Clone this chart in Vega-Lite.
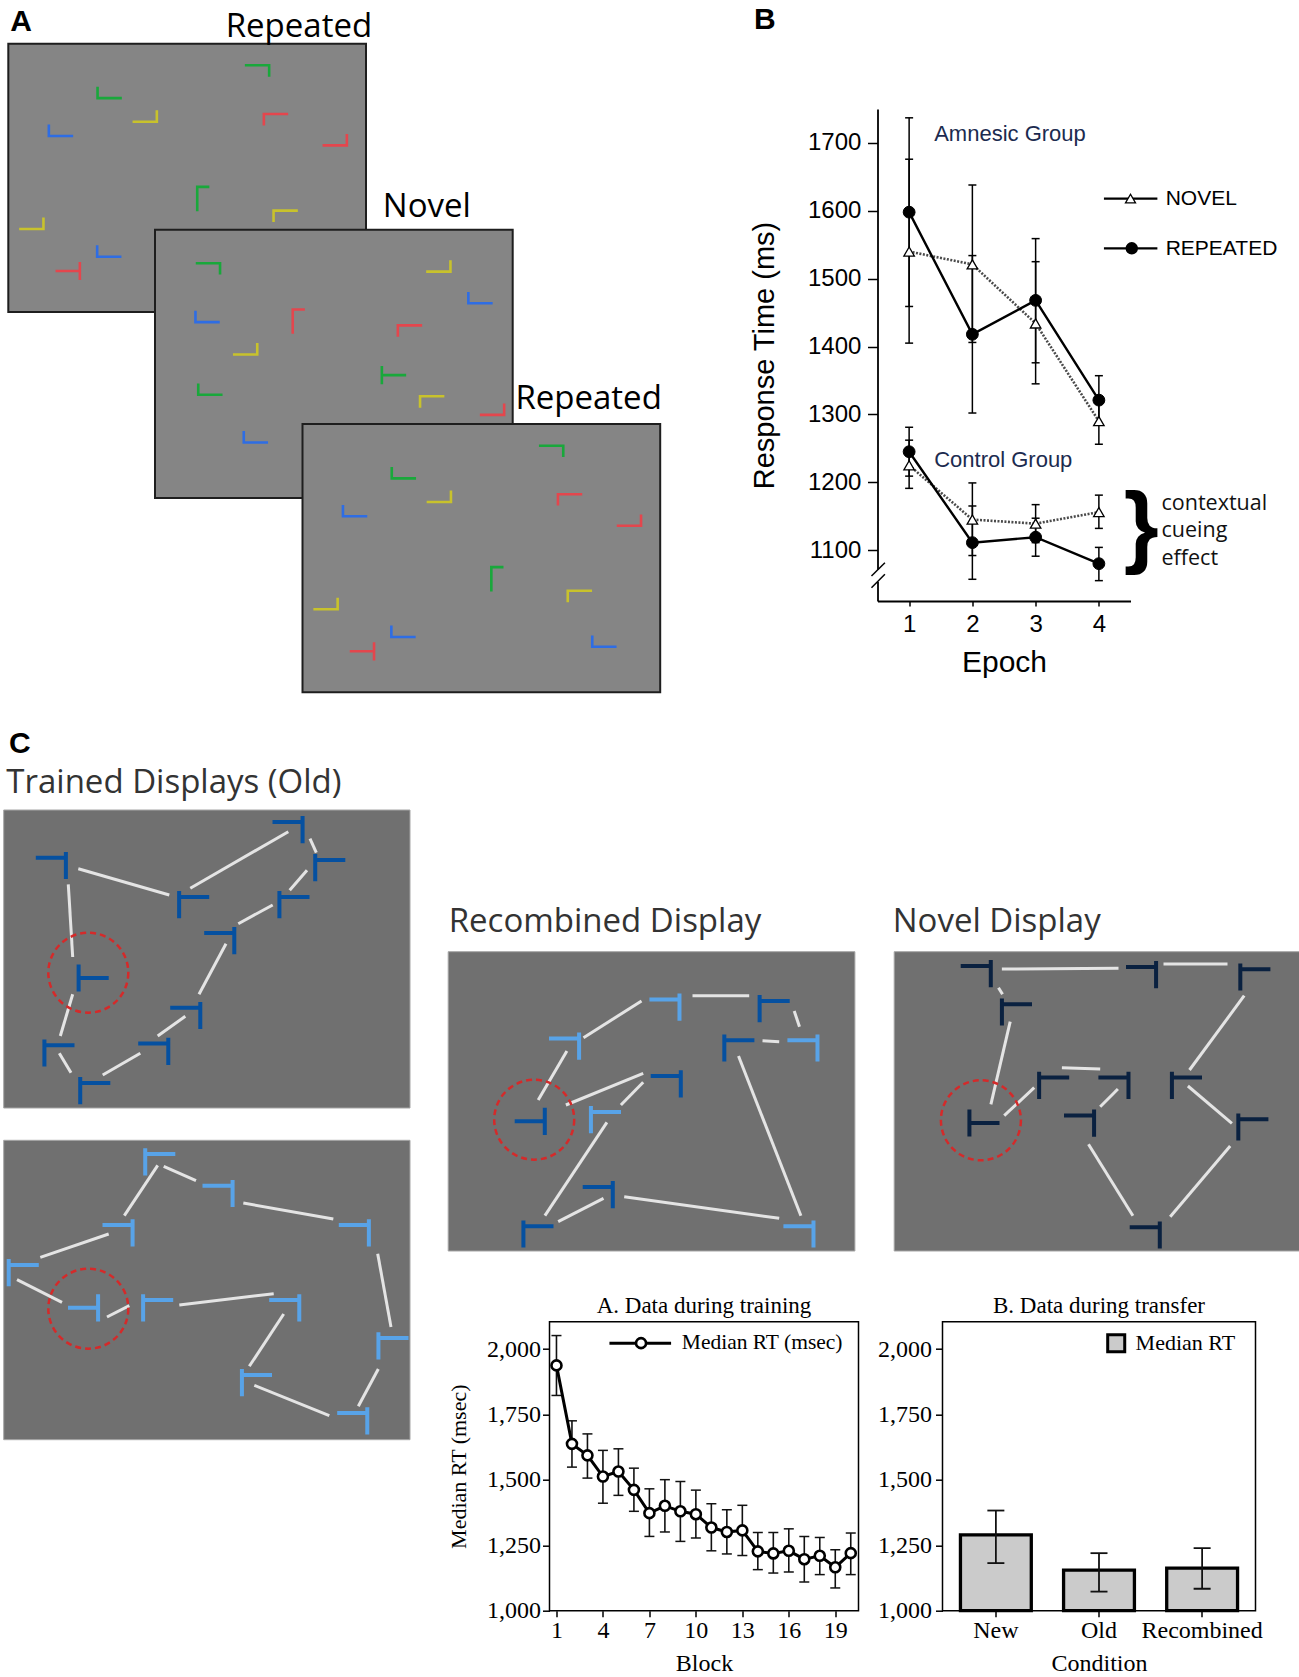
{
  "$schema": "https://vega.github.io/schema/vega-lite/v6.json",
  "background": "white",
  "padding": {"top": 4, "left": 0, "right": 0, "bottom": 0},
  "spacing": 30,
  "config": {
    "view": {"stroke": null},
    "axis": {"grid": false, "domainColor": "black", "tickColor": "black", "labelColor": "black", "titleColor": "black", "titleFontWeight": "normal", "labelFlush": false}
  },
  "resolve": {"scale": {"color": "independent", "shape": "independent"}},
  "datasets": {
    "a_displays": [
      {"id": "Repeated 1", "x1": 0.73, "x2": 36.5, "y1": 4.27, "y2": 31.1},
      {"id": "Novel", "x1": 15.4, "x2": 51.17, "y1": 22.87, "y2": 49.7},
      {"id": "Repeated 2", "x1": 30.15, "x2": 65.92, "y1": 42.3, "y2": 69.13}
    ],
    "a_items": [
      {"k": "TR", "c": "green", "x": 25.6, "y": 7.0},
      {"k": "BL", "c": "green", "x": 10.87, "y": 9.14},
      {"k": "BR", "c": "yellow", "x": 14.37, "y": 11.5},
      {"k": "BL", "c": "blue", "x": 6.0, "y": 12.93},
      {"k": "TL", "c": "red", "x": 27.5, "y": 11.87},
      {"k": "BR", "c": "red", "x": 33.37, "y": 13.87},
      {"k": "TLv", "c": "green", "x": 20.23, "y": 19.8},
      {"k": "TL", "c": "yellow", "x": 28.47, "y": 21.53},
      {"k": "BR", "c": "yellow", "x": 3.03, "y": 22.23},
      {"k": "BL", "c": "blue", "x": 10.83, "y": 25.0},
      {"k": "TLeft", "c": "red", "x": 6.67, "y": 27.0},
      {"k": "TR", "c": "green", "x": 20.69, "y": 26.79},
      {"k": "BR", "c": "yellow", "x": 43.73, "y": 26.49},
      {"k": "BL", "c": "blue", "x": 47.95, "y": 29.66},
      {"k": "BL", "c": "blue", "x": 20.66, "y": 31.54},
      {"k": "TLv", "c": "red", "x": 29.78, "y": 32.07},
      {"k": "TL", "c": "red", "x": 40.9, "y": 33.01},
      {"k": "BR", "c": "yellow", "x": 24.41, "y": 34.78},
      {"k": "TRight", "c": "green", "x": 39.3, "y": 37.41},
      {"k": "BL", "c": "green", "x": 20.94, "y": 38.81},
      {"k": "TL", "c": "yellow", "x": 43.12, "y": 40.1},
      {"k": "BR", "c": "red", "x": 49.1, "y": 40.82},
      {"k": "BL", "c": "blue", "x": 25.49, "y": 43.58},
      {"k": "TR", "c": "green", "x": 55.01, "y": 45.04},
      {"k": "BL", "c": "green", "x": 40.29, "y": 47.17},
      {"k": "BR", "c": "yellow", "x": 43.78, "y": 49.53},
      {"k": "BL", "c": "blue", "x": 35.41, "y": 50.96},
      {"k": "TL", "c": "red", "x": 56.91, "y": 49.89},
      {"k": "BR", "c": "red", "x": 62.79, "y": 51.91},
      {"k": "TLv", "c": "green", "x": 49.64, "y": 57.83},
      {"k": "TL", "c": "yellow", "x": 57.89, "y": 59.55},
      {"k": "BR", "c": "yellow", "x": 32.45, "y": 60.25},
      {"k": "BL", "c": "blue", "x": 40.25, "y": 63.03},
      {"k": "TLeft", "c": "red", "x": 36.09, "y": 65.03},
      {"k": "BL", "c": "blue", "x": 60.34, "y": 64.01}
    ],
    "a_titles": [
      {"t": "Repeated", "x": 22.47, "y": 3.55},
      {"t": "Novel", "x": 38.18, "y": 21.6},
      {"t": "Repeated", "x": 51.44, "y": 40.8}
    ],
    "a_tag": [{"t": "A", "x": 0.92, "y": 3.0}],
    "c_displays": [
      {"id": "Trained 1", "x1": 0.27, "x2": 40.9, "y1": 8.4, "y2": 38.2},
      {"id": "Trained 2", "x1": 0.27, "x2": 40.9, "y1": 41.43, "y2": 71.37}
    ],
    "c_items": [
      {"k": "LT", "c": "dark", "x": 5.08, "y": 13.95},
      {"k": "RT", "c": "dark", "x": 19.22, "y": 17.87},
      {"k": "LT", "c": "dark", "x": 28.75, "y": 10.37},
      {"k": "RT", "c": "dark", "x": 32.83, "y": 14.17},
      {"k": "RT", "c": "dark", "x": 29.25, "y": 17.87},
      {"k": "LT", "c": "dark", "x": 21.92, "y": 21.47},
      {"k": "RM", "c": "dark", "x": 9.17, "y": 25.2},
      {"k": "LT", "c": "dark", "x": 18.52, "y": 28.95},
      {"k": "LT", "c": "dark", "x": 15.32, "y": 32.53},
      {"k": "RT", "c": "dark", "x": 5.75, "y": 32.7},
      {"k": "RT", "c": "dark", "x": 9.33, "y": 36.47},
      {"k": "RT", "c": "light", "x": 15.83, "y": 43.58},
      {"k": "LT", "c": "light", "x": 21.75, "y": 46.75},
      {"k": "LT", "c": "light", "x": 35.38, "y": 50.68},
      {"k": "LT", "c": "light", "x": 11.75, "y": 50.68},
      {"k": "RT", "c": "light", "x": 2.18, "y": 54.67},
      {"k": "LM", "c": "light", "x": 8.3, "y": 58.18},
      {"k": "RT", "c": "light", "x": 15.62, "y": 58.18},
      {"k": "LT", "c": "light", "x": 28.42, "y": 58.18},
      {"k": "RT", "c": "light", "x": 39.15, "y": 61.98},
      {"k": "RT", "c": "light", "x": 25.5, "y": 65.67},
      {"k": "LT", "c": "light", "x": 35.22, "y": 69.48}
    ],
    "c_lines": [
      {"x": 7.73, "y": 14.27, "x2": 16.83, "y2": 16.9},
      {"x": 18.93, "y": 16.23, "x2": 28.73, "y2": 10.57},
      {"x": 30.9, "y": 11.27, "x2": 31.53, "y2": 12.67},
      {"x": 30.6, "y": 14.43, "x2": 28.87, "y2": 16.43},
      {"x": 27.17, "y": 17.9, "x2": 23.73, "y2": 19.77},
      {"x": 22.5, "y": 21.77, "x2": 19.8, "y2": 26.83},
      {"x": 18.43, "y": 29.03, "x2": 15.67, "y2": 31.0},
      {"x": 13.93, "y": 32.73, "x2": 10.17, "y2": 34.9},
      {"x": 7.0, "y": 34.67, "x2": 5.83, "y2": 32.73},
      {"x": 5.93, "y": 31.0, "x2": 7.17, "y2": 26.83},
      {"x": 7.17, "y": 23.1, "x2": 6.73, "y2": 15.83},
      {"x": 15.67, "y": 43.93, "x2": 12.33, "y2": 48.97},
      {"x": 16.27, "y": 44.03, "x2": 19.5, "y2": 45.47},
      {"x": 24.23, "y": 47.7, "x2": 33.23, "y2": 49.3},
      {"x": 37.67, "y": 52.77, "x2": 39.0, "y2": 60.1},
      {"x": 37.73, "y": 64.3, "x2": 35.73, "y2": 68.03},
      {"x": 32.83, "y": 68.97, "x2": 25.33, "y2": 65.93},
      {"x": 24.83, "y": 64.03, "x2": 28.27, "y2": 58.8},
      {"x": 27.27, "y": 56.77, "x2": 17.83, "y2": 57.9},
      {"x": 12.83, "y": 57.97, "x2": 10.6, "y2": 59.1},
      {"x": 6.1, "y": 57.63, "x2": 1.6, "y2": 55.37},
      {"x": 3.93, "y": 53.13, "x2": 10.77, "y2": 50.8}
    ],
    "c_circles": [{"x": 8.73, "y": 24.67}, {"x": 8.73, "y": 58.27}],
    "c_titles": [{"t": "Trained Displays (Old)", "x": 0.53, "y": 6.7}],
    "c_tag": [{"t": "C", "x": 0.8, "y": 2.7}],
    "d_displays": [
      {"id": "Recombined", "x1": 0.0, "x2": 40.67, "y1": 22.57, "y2": 52.5},
      {"id": "Novel", "x1": 44.6, "x2": 85.27, "y1": 22.57, "y2": 52.5}
    ],
    "d_items": [
      {"k": "LT", "c": "light", "x": 21.72, "y": 28.12},
      {"k": "RT", "c": "dark", "x": 32.55, "y": 28.27},
      {"k": "LT", "c": "light", "x": 11.68, "y": 32.02},
      {"k": "RT", "c": "dark", "x": 29.02, "y": 32.2},
      {"k": "LT", "c": "light", "x": 35.52, "y": 32.2},
      {"k": "LT", "c": "dark", "x": 21.85, "y": 35.78},
      {"k": "LM", "c": "dark", "x": 8.25, "y": 39.53},
      {"k": "RT", "c": "light", "x": 15.68, "y": 39.37},
      {"k": "LT", "c": "dark", "x": 15.05, "y": 46.87},
      {"k": "RT", "c": "dark", "x": 8.93, "y": 50.8},
      {"k": "LT", "c": "light", "x": 35.12, "y": 50.8},
      {"k": "LT", "c": "navy", "x": 52.85, "y": 24.77},
      {"k": "LT", "c": "navy", "x": 69.38, "y": 24.87},
      {"k": "RT", "c": "navy", "x": 80.62, "y": 25.1},
      {"k": "RT", "c": "navy", "x": 56.78, "y": 28.6},
      {"k": "RT", "c": "navy", "x": 60.5, "y": 35.93},
      {"k": "LT", "c": "navy", "x": 66.62, "y": 35.93},
      {"k": "RT", "c": "navy", "x": 73.78, "y": 35.93},
      {"k": "RM", "c": "navy", "x": 53.53, "y": 39.7},
      {"k": "LT", "c": "navy", "x": 63.18, "y": 39.72},
      {"k": "RT", "c": "navy", "x": 80.42, "y": 40.1},
      {"k": "LT", "c": "navy", "x": 69.75, "y": 50.9}
    ],
    "d_lines": [
      {"x": 13.53, "y": 31.17, "x2": 19.33, "y2": 27.5},
      {"x": 24.43, "y": 26.97, "x2": 30.1, "y2": 26.97},
      {"x": 34.6, "y": 28.5, "x2": 35.13, "y2": 30.07},
      {"x": 31.43, "y": 31.47, "x2": 33.1, "y2": 31.57},
      {"x": 11.87, "y": 32.5, "x2": 9.0, "y2": 37.4},
      {"x": 11.77, "y": 37.9, "x2": 19.5, "y2": 34.73},
      {"x": 17.27, "y": 37.9, "x2": 19.5, "y2": 35.63},
      {"x": 15.87, "y": 39.63, "x2": 9.67, "y2": 48.97},
      {"x": 11.0, "y": 49.57, "x2": 15.53, "y2": 47.23},
      {"x": 17.6, "y": 47.07, "x2": 33.1, "y2": 49.23},
      {"x": 29.03, "y": 33.0, "x2": 35.27, "y2": 48.97},
      {"x": 55.37, "y": 24.3, "x2": 67.03, "y2": 24.23},
      {"x": 71.53, "y": 23.8, "x2": 77.93, "y2": 23.8},
      {"x": 55.03, "y": 26.17, "x2": 55.43, "y2": 26.83},
      {"x": 56.2, "y": 29.57, "x2": 54.27, "y2": 37.83},
      {"x": 55.6, "y": 38.97, "x2": 58.6, "y2": 36.17},
      {"x": 61.37, "y": 34.17, "x2": 65.2, "y2": 34.3},
      {"x": 65.2, "y": 38.07, "x2": 66.97, "y2": 36.3},
      {"x": 79.6, "y": 26.97, "x2": 74.13, "y2": 34.4},
      {"x": 73.97, "y": 36.0, "x2": 78.37, "y2": 39.73},
      {"x": 78.2, "y": 42.0, "x2": 72.2, "y2": 49.07},
      {"x": 64.03, "y": 41.83, "x2": 68.47, "y2": 48.97}
    ],
    "d_circles": [{"x": 8.6, "y": 39.37}, {"x": 53.27, "y": 39.43}],
    "d_titles": [
      {"t": "Recombined Display", "x": 0.05, "y": 20.57},
      {"t": "Novel Display", "x": 44.45, "y": 20.57}
    ],
    "b_series": [
      {"group": "Amnesic", "cond": "NOVEL", "epoch": 1, "rt": 1540, "lo": 1405, "hi": 1676},
      {"group": "Amnesic", "cond": "NOVEL", "epoch": 2, "rt": 1521, "lo": 1406, "hi": 1638},
      {"group": "Amnesic", "cond": "NOVEL", "epoch": 3, "rt": 1434, "lo": 1345, "hi": 1525},
      {"group": "Amnesic", "cond": "NOVEL", "epoch": 4, "rt": 1290, "lo": 1256, "hi": 1324},
      {"group": "Control", "cond": "NOVEL", "epoch": 1, "rt": 1225, "lo": 1191, "hi": 1262},
      {"group": "Control", "cond": "NOVEL", "epoch": 2, "rt": 1145, "lo": 1092, "hi": 1199},
      {"group": "Control", "cond": "NOVEL", "epoch": 3, "rt": 1139, "lo": 1111, "hi": 1167},
      {"group": "Control", "cond": "NOVEL", "epoch": 4, "rt": 1156, "lo": 1132, "hi": 1181},
      {"group": "Amnesic", "cond": "REPEATED", "epoch": 1, "rt": 1598, "lo": 1459, "hi": 1737},
      {"group": "Amnesic", "cond": "REPEATED", "epoch": 2, "rt": 1418, "lo": 1302, "hi": 1534},
      {"group": "Amnesic", "cond": "REPEATED", "epoch": 3, "rt": 1468, "lo": 1376, "hi": 1559},
      {"group": "Amnesic", "cond": "REPEATED", "epoch": 4, "rt": 1321, "lo": 1285, "hi": 1357},
      {"group": "Control", "cond": "REPEATED", "epoch": 1, "rt": 1245, "lo": 1209, "hi": 1281},
      {"group": "Control", "cond": "REPEATED", "epoch": 2, "rt": 1111, "lo": 1057, "hi": 1165},
      {"group": "Control", "cond": "REPEATED", "epoch": 3, "rt": 1119, "lo": 1091, "hi": 1147},
      {"group": "Control", "cond": "REPEATED", "epoch": 4, "rt": 1080, "lo": 1055, "hi": 1104}
    ],
    "b_legend": [
      {"cond": "NOVEL", "xa": 4.08, "xb": 4.925, "xs": 4.5, "xt": 5.056, "y": 1618, "yt": 1617},
      {"cond": "REPEATED", "xa": 4.08, "xb": 4.925, "xs": 4.52, "xt": 5.056, "y": 1544.7, "yt": 1543}
    ],
    "b_notes": [
      {"t": "Amnesic Group", "x": 1.396, "y": 1713},
      {"t": "Control Group", "x": 1.396, "y": 1233.4}
    ],
    "b_effect": [
      {"t": "contextual", "x": 4.99, "y": 1167.5},
      {"t": "cueing", "x": 4.99, "y": 1128.2},
      {"t": "effect", "x": 4.99, "y": 1086.4}
    ],
    "b_brace": [{"t": "}", "x": 4.67, "y": 1131}],
    "b_tag": [{"t": "B", "x": -1.453, "y": 1867.9}],
    "b_gap": [{"x": 0.5, "y": 1053, "y2": 1071}],
    "b_break": [
      {"x": 0.405, "y": 1061.8, "x2": 0.617, "y2": 1081.4},
      {"x": 0.405, "y": 1044.6, "x2": 0.617, "y2": 1064.3}
    ],
    "ta_train": [
      {"block": 1, "rt": 1938, "lo": 1823, "hi": 2052},
      {"block": 2, "rt": 1638, "lo": 1549, "hi": 1726},
      {"block": 3, "rt": 1594, "lo": 1507, "hi": 1676},
      {"block": 4, "rt": 1513, "lo": 1411, "hi": 1613},
      {"block": 5, "rt": 1532, "lo": 1441, "hi": 1619},
      {"block": 6, "rt": 1462, "lo": 1380, "hi": 1545},
      {"block": 7, "rt": 1373, "lo": 1284, "hi": 1466},
      {"block": 8, "rt": 1401, "lo": 1301, "hi": 1501},
      {"block": 9, "rt": 1380, "lo": 1265, "hi": 1494},
      {"block": 10, "rt": 1369, "lo": 1278, "hi": 1461},
      {"block": 11, "rt": 1318, "lo": 1229, "hi": 1409},
      {"block": 12, "rt": 1301, "lo": 1217, "hi": 1386},
      {"block": 13, "rt": 1307, "lo": 1211, "hi": 1403},
      {"block": 14, "rt": 1227, "lo": 1157, "hi": 1299},
      {"block": 15, "rt": 1219, "lo": 1144, "hi": 1299},
      {"block": 16, "rt": 1229, "lo": 1148, "hi": 1313},
      {"block": 17, "rt": 1197, "lo": 1110, "hi": 1284},
      {"block": 18, "rt": 1210, "lo": 1138, "hi": 1280},
      {"block": 19, "rt": 1166, "lo": 1087, "hi": 1233},
      {"block": 20, "rt": 1220, "lo": 1138, "hi": 1297}
    ],
    "ta_legend": [{"xa": 4.42, "xb": 8.4, "xs": 6.46, "xt": 9.09, "y": 2023, "t": "Median RT (msec)"}],
    "tb_transfer": [
      {"cond": "New", "rt": 1290, "lo": 1182, "hi": 1383},
      {"cond": "Old", "rt": 1155, "lo": 1073, "hi": 1220},
      {"cond": "Recombined", "rt": 1163, "lo": 1084, "hi": 1239}
    ],
    "tb_legend": [{"lx": 0.555, "lxt": 0.617, "y": 2023, "t": "Median RT"}]
  },
  "vconcat": [
    {
      "spacing": 68.5,
      "resolve": {"scale": {"color": "independent", "shape": "independent"}},
      "hconcat": [
        {
          "width": 680,
          "height": 587,
          "layer": [
            {
              "data": {"name": "a_displays"},
              "mark": {"type": "rect", "fill": "#858585", "stroke": "#1e1e1e", "strokeWidth": 2},
              "encoding": {
                "x": {"field": "x1", "type": "quantitative", "scale": {"domain": [0, 68], "nice": false, "zero": false}, "axis": null},
                "x2": {"field": "x2"},
                "y": {"field": "y1", "type": "quantitative", "scale": {"domain": [10.8, 69.5], "nice": false, "zero": false, "reverse": true}, "axis": null},
                "y2": {"field": "y2"}
              }
            },
            {
              "data": {"name": "a_items"},
              "mark": {"type": "point", "filled": false, "size": 590, "strokeWidth": 2.6, "opacity": 1},
              "encoding": {
                "x": {"field": "x", "type": "quantitative", "scale": {"domain": [0, 68], "nice": false, "zero": false}, "axis": null},
                "y": {"field": "y", "type": "quantitative", "scale": {"domain": [10.8, 69.5], "nice": false, "zero": false, "reverse": true}, "axis": null},
                "shape": {"field": "k", "type": "nominal", "legend": null, "scale": {"domain": ["BL", "BR", "TR", "TL", "TLv", "TLeft", "TRight"], "range": ["M-1,-0.47L-1,0.47L1,0.47", "M-1,0.47L1,0.47L1,-0.47", "M-1,-0.47L1,-0.47L1,0.47", "M-1,0.47L-1,-0.47L1,-0.47", "M0.5,-1L-0.5,-1L-0.5,1", "M-1,0L1,0M1,-0.75L1,0.75", "M1,0L-1,0M-1,-0.75L-1,0.75"]}},
                "color": {"field": "c", "type": "nominal", "legend": null, "scale": {"domain": ["green", "red", "blue", "yellow"], "range": ["#19a83b", "#e4464d", "#2e6de4", "#c8c22c"]}}
              }
            },
            {
              "data": {"name": "a_titles"},
              "mark": {"type": "text", "font": "Open Sans", "fontSize": 33, "align": "left", "baseline": "alphabetic", "color": "#000000"},
              "encoding": {
                "x": {"field": "x", "type": "quantitative", "scale": {"domain": [0, 68], "nice": false, "zero": false}, "axis": null},
                "y": {"field": "y", "type": "quantitative", "scale": {"domain": [10.8, 69.5], "nice": false, "zero": false, "reverse": true}, "axis": null},
                "text": {"field": "t", "type": "nominal"}
              }
            },
            {
              "data": {"name": "a_tag"},
              "mark": {"type": "text", "font": "Liberation Sans", "fontWeight": "bold", "fontSize": 30, "align": "left", "baseline": "alphabetic", "color": "#000000"},
              "encoding": {
                "x": {"field": "x", "type": "quantitative", "scale": {"domain": [0, 68], "nice": false, "zero": false}, "axis": null},
                "y": {"field": "y", "type": "quantitative", "scale": {"domain": [10.8, 69.5], "nice": false, "zero": false, "reverse": true}, "axis": null},
                "text": {"field": "t", "type": "nominal"}
              }
            }
          ]
        },
        {
          "width": 253,
          "height": 492,
          "layer": [
            {
              "data": {"name": "b_series"},
              "mark": {"type": "rule", "color": "black", "strokeWidth": 1.5},
              "encoding": {
                "x": {"field": "epoch", "type": "quantitative", "title": "Epoch", "scale": {"domain": [0.5, 4.5], "nice": false, "zero": false},
                  "axis": {"values": [1, 2, 3, 4], "format": "d", "title": "Epoch", "titleFont": "Liberation Sans", "titleFontSize": 30, "titlePadding": 11, "labelFont": "Liberation Sans", "labelFontSize": 24, "labelPadding": 6, "tickSize": 5, "tickWidth": 1.5, "domainWidth": 1.8}},
                "y": {"field": "lo", "type": "quantitative", "title": "Response Time (ms)", "scale": {"domain": [1025, 1750], "nice": false, "zero": false},
                  "axis": {"values": [1100, 1200, 1300, 1400, 1500, 1600, 1700], "format": "d", "title": "Response Time (ms)", "titleFont": "Liberation Sans", "titleFontSize": 29, "titlePadding": 28.5, "labelFont": "Liberation Sans", "labelFontSize": 24, "labelPadding": 6.6, "tickSize": 10, "tickWidth": 1.5, "domainWidth": 1.8}},
                "y2": {"field": "hi"}
              }
            },
            {
              "data": {"name": "b_series"},
              "mark": {"type": "tick", "orient": "horizontal", "size": 8, "thickness": 1.5, "color": "black", "opacity": 1},
              "encoding": {
                "x": {"field": "epoch", "type": "quantitative", "title": "Epoch", "scale": {"domain": [0.5, 4.5], "nice": false, "zero": false}},
                "y": {"field": "hi", "type": "quantitative", "title": "Response Time (ms)", "scale": {"domain": [1025, 1750], "nice": false, "zero": false}}
              }
            },
            {
              "data": {"name": "b_series"},
              "mark": {"type": "tick", "orient": "horizontal", "size": 8, "thickness": 1.5, "color": "black", "opacity": 1},
              "encoding": {
                "x": {"field": "epoch", "type": "quantitative", "title": "Epoch", "scale": {"domain": [0.5, 4.5], "nice": false, "zero": false}},
                "y": {"field": "lo", "type": "quantitative", "title": "Response Time (ms)", "scale": {"domain": [1025, 1750], "nice": false, "zero": false}}
              }
            },
            {
              "data": {"name": "b_series"},
              "transform": [{"filter": "datum.cond === 'NOVEL'"}],
              "mark": {"type": "line", "color": "#4a4a4a", "strokeWidth": 2.6, "strokeDash": [2, 1.5]},
              "encoding": {
                "x": {"field": "epoch", "type": "quantitative", "title": "Epoch", "scale": {"domain": [0.5, 4.5], "nice": false, "zero": false}},
                "y": {"field": "rt", "type": "quantitative", "title": "Response Time (ms)", "scale": {"domain": [1025, 1750], "nice": false, "zero": false}},
                "detail": {"field": "group", "type": "nominal"}
              }
            },
            {
              "data": {"name": "b_series"},
              "transform": [{"filter": "datum.cond === 'REPEATED'"}],
              "mark": {"type": "line", "color": "black", "strokeWidth": 2.4},
              "encoding": {
                "x": {"field": "epoch", "type": "quantitative", "title": "Epoch", "scale": {"domain": [0.5, 4.5], "nice": false, "zero": false}},
                "y": {"field": "rt", "type": "quantitative", "title": "Response Time (ms)", "scale": {"domain": [1025, 1750], "nice": false, "zero": false}},
                "detail": {"field": "group", "type": "nominal"}
              }
            },
            {
              "data": {"name": "b_series"},
              "transform": [{"filter": "datum.cond === 'NOVEL'"}],
              "mark": {"type": "point", "shape": "triangle-up", "filled": true, "fill": "white", "stroke": "black", "strokeWidth": 1.3, "size": 110, "opacity": 1},
              "encoding": {
                "x": {"field": "epoch", "type": "quantitative", "title": "Epoch", "scale": {"domain": [0.5, 4.5], "nice": false, "zero": false}},
                "y": {"field": "rt", "type": "quantitative", "title": "Response Time (ms)", "scale": {"domain": [1025, 1750], "nice": false, "zero": false}}
              }
            },
            {
              "data": {"name": "b_series"},
              "transform": [{"filter": "datum.cond === 'REPEATED'"}],
              "mark": {"type": "point", "shape": "circle", "filled": true, "fill": "black", "stroke": "black", "strokeWidth": 1, "size": 140, "opacity": 1},
              "encoding": {
                "x": {"field": "epoch", "type": "quantitative", "title": "Epoch", "scale": {"domain": [0.5, 4.5], "nice": false, "zero": false}},
                "y": {"field": "rt", "type": "quantitative", "title": "Response Time (ms)", "scale": {"domain": [1025, 1750], "nice": false, "zero": false}}
              }
            },
            {
              "data": {"name": "b_legend"},
              "mark": {"type": "rule", "color": "black", "strokeWidth": 2.2},
              "encoding": {
                "x": {"field": "xa", "type": "quantitative", "title": "Epoch", "scale": {"domain": [0.5, 4.5], "nice": false, "zero": false}},
                "x2": {"field": "xb"},
                "y": {"field": "y", "type": "quantitative", "title": "Response Time (ms)", "scale": {"domain": [1025, 1750], "nice": false, "zero": false}}
              }
            },
            {
              "data": {"name": "b_legend"},
              "transform": [{"filter": "datum.cond === 'NOVEL'"}],
              "mark": {"type": "point", "shape": "triangle-up", "filled": true, "fill": "white", "stroke": "black", "strokeWidth": 1.3, "size": 100, "opacity": 1},
              "encoding": {
                "x": {"field": "xs", "type": "quantitative", "title": "Epoch", "scale": {"domain": [0.5, 4.5], "nice": false, "zero": false}},
                "y": {"field": "y", "type": "quantitative", "title": "Response Time (ms)", "scale": {"domain": [1025, 1750], "nice": false, "zero": false}}
              }
            },
            {
              "data": {"name": "b_legend"},
              "transform": [{"filter": "datum.cond === 'REPEATED'"}],
              "mark": {"type": "point", "shape": "circle", "filled": true, "fill": "black", "stroke": "black", "size": 110, "opacity": 1},
              "encoding": {
                "x": {"field": "xs", "type": "quantitative", "title": "Epoch", "scale": {"domain": [0.5, 4.5], "nice": false, "zero": false}},
                "y": {"field": "y", "type": "quantitative", "title": "Response Time (ms)", "scale": {"domain": [1025, 1750], "nice": false, "zero": false}}
              }
            },
            {
              "data": {"name": "b_legend"},
              "mark": {"type": "text", "font": "Liberation Sans", "fontSize": 21, "align": "left", "baseline": "middle", "color": "black"},
              "encoding": {
                "x": {"field": "xt", "type": "quantitative", "title": "Epoch", "scale": {"domain": [0.5, 4.5], "nice": false, "zero": false}},
                "y": {"field": "yt", "type": "quantitative", "title": "Response Time (ms)", "scale": {"domain": [1025, 1750], "nice": false, "zero": false}},
                "text": {"field": "cond", "type": "nominal"}
              }
            },
            {
              "data": {"name": "b_notes"},
              "mark": {"type": "text", "font": "Liberation Sans", "fontSize": 22, "align": "left", "baseline": "middle", "color": "#1c2b4f"},
              "encoding": {
                "x": {"field": "x", "type": "quantitative", "title": "Epoch", "scale": {"domain": [0.5, 4.5], "nice": false, "zero": false}},
                "y": {"field": "y", "type": "quantitative", "title": "Response Time (ms)", "scale": {"domain": [1025, 1750], "nice": false, "zero": false}},
                "text": {"field": "t", "type": "nominal"}
              }
            },
            {
              "data": {"name": "b_effect"},
              "mark": {"type": "text", "font": "Open Sans", "fontSize": 21.5, "align": "left", "baseline": "middle", "color": "#111111"},
              "encoding": {
                "x": {"field": "x", "type": "quantitative", "title": "Epoch", "scale": {"domain": [0.5, 4.5], "nice": false, "zero": false}},
                "y": {"field": "y", "type": "quantitative", "title": "Response Time (ms)", "scale": {"domain": [1025, 1750], "nice": false, "zero": false}},
                "text": {"field": "t", "type": "nominal"}
              }
            },
            {
              "data": {"name": "b_brace"},
              "mark": {"type": "text", "font": "Liberation Sans", "fontWeight": "bold", "fontSize": 90, "align": "center", "baseline": "middle", "color": "black"},
              "encoding": {
                "x": {"field": "x", "type": "quantitative", "title": "Epoch", "scale": {"domain": [0.5, 4.5], "nice": false, "zero": false}},
                "y": {"field": "y", "type": "quantitative", "title": "Response Time (ms)", "scale": {"domain": [1025, 1750], "nice": false, "zero": false}},
                "text": {"field": "t", "type": "nominal"}
              }
            },
            {
              "data": {"name": "b_tag"},
              "mark": {"type": "text", "font": "Liberation Sans", "fontWeight": "bold", "fontSize": 30, "align": "left", "baseline": "alphabetic", "color": "black"},
              "encoding": {
                "x": {"field": "x", "type": "quantitative", "title": "Epoch", "scale": {"domain": [0.5, 4.5], "nice": false, "zero": false}},
                "y": {"field": "y", "type": "quantitative", "title": "Response Time (ms)", "scale": {"domain": [1025, 1750], "nice": false, "zero": false}},
                "text": {"field": "t", "type": "nominal"}
              }
            },
            {
              "data": {"name": "b_gap"},
              "mark": {"type": "rule", "color": "white", "strokeWidth": 5},
              "encoding": {
                "x": {"field": "x", "type": "quantitative", "title": "Epoch", "scale": {"domain": [0.5, 4.5], "nice": false, "zero": false}},
                "y": {"field": "y", "type": "quantitative", "title": "Response Time (ms)", "scale": {"domain": [1025, 1750], "nice": false, "zero": false}},
                "y2": {"field": "y2"}
              }
            },
            {
              "data": {"name": "b_break"},
              "mark": {"type": "rule", "color": "black", "strokeWidth": 1.5},
              "encoding": {
                "x": {"field": "x", "type": "quantitative", "title": "Epoch", "scale": {"domain": [0.5, 4.5], "nice": false, "zero": false}},
                "y": {"field": "y", "type": "quantitative", "title": "Response Time (ms)", "scale": {"domain": [1025, 1750], "nice": false, "zero": false}},
                "x2": {"field": "x2"},
                "y2": {"field": "y2"}
              }
            }
          ]
        }
      ]
    },
    {
      "spacing": 29.5,
      "resolve": {"scale": {"color": "independent", "shape": "independent"}},
      "hconcat": [
        {
          "width": 410,
          "height": 715,
          "layer": [
            {
              "data": {"name": "c_displays"},
              "mark": {"type": "rect", "fill": "#707070", "stroke": "#a5a5a5", "strokeWidth": 1},
              "encoding": {
                "x": {"field": "x1", "type": "quantitative", "scale": {"domain": [0, 41], "nice": false, "zero": false}, "axis": null},
                "x2": {"field": "x2"},
                "y": {"field": "y1", "type": "quantitative", "scale": {"domain": [0, 71.5], "nice": false, "zero": false, "reverse": true}, "axis": null},
                "y2": {"field": "y2"}
              }
            },
            {
              "data": {"name": "c_lines"},
              "mark": {"type": "rule", "color": "#e4e4e4", "strokeWidth": 3},
              "encoding": {
                "x": {"field": "x", "type": "quantitative", "scale": {"domain": [0, 41], "nice": false, "zero": false}, "axis": null},
                "y": {"field": "y", "type": "quantitative", "scale": {"domain": [0, 71.5], "nice": false, "zero": false, "reverse": true}, "axis": null},
                "x2": {"field": "x2"},
                "y2": {"field": "y2"}
              }
            },
            {
              "data": {"name": "c_items"},
              "mark": {"type": "point", "filled": false, "size": 1024, "strokeWidth": 4, "opacity": 1},
              "encoding": {
                "x": {"field": "x", "type": "quantitative", "scale": {"domain": [0, 41], "nice": false, "zero": false}, "axis": null},
                "y": {"field": "y", "type": "quantitative", "scale": {"domain": [0, 71.5], "nice": false, "zero": false, "reverse": true}, "axis": null},
                "shape": {"field": "k", "type": "nominal", "legend": null, "scale": {"domain": ["LT", "RT", "LM", "RM"], "range": ["M-1,-0.48L0.88,-0.48M0.88,-0.85L0.88,0.85", "M1,-0.48L-0.88,-0.48M-0.88,-0.85L-0.88,0.85", "M-1,0L0.88,0M0.88,-0.85L0.88,0.85", "M1,0L-0.88,0M-0.88,-0.85L-0.88,0.85"]}},
                "color": {"field": "c", "type": "nominal", "legend": null, "scale": {"domain": ["dark", "light", "navy"], "range": ["#0550a0", "#58a3e8", "#0a2140"]}}
              }
            },
            {
              "data": {"name": "c_circles"},
              "mark": {"type": "point", "shape": "circle", "filled": false, "size": 6400, "color": "#d42a2a", "strokeWidth": 2.5, "strokeDash": [6, 4], "opacity": 1},
              "encoding": {
                "x": {"field": "x", "type": "quantitative", "scale": {"domain": [0, 41], "nice": false, "zero": false}, "axis": null},
                "y": {"field": "y", "type": "quantitative", "scale": {"domain": [0, 71.5], "nice": false, "zero": false, "reverse": true}, "axis": null}
              }
            },
            {
              "data": {"name": "c_titles"},
              "mark": {"type": "text", "font": "Open Sans", "fontSize": 33, "align": "left", "baseline": "alphabetic", "color": "#333333"},
              "encoding": {
                "x": {"field": "x", "type": "quantitative", "scale": {"domain": [0, 41], "nice": false, "zero": false}, "axis": null},
                "y": {"field": "y", "type": "quantitative", "scale": {"domain": [0, 71.5], "nice": false, "zero": false, "reverse": true}, "axis": null},
                "text": {"field": "t", "type": "nominal"}
              }
            },
            {
              "data": {"name": "c_tag"},
              "mark": {"type": "text", "font": "Liberation Sans", "fontWeight": "bold", "fontSize": 30, "align": "left", "baseline": "alphabetic", "color": "#000000"},
              "encoding": {
                "x": {"field": "x", "type": "quantitative", "scale": {"domain": [0, 41], "nice": false, "zero": false}, "axis": null},
                "y": {"field": "y", "type": "quantitative", "scale": {"domain": [0, 71.5], "nice": false, "zero": false, "reverse": true}, "axis": null},
                "text": {"field": "t", "type": "nominal"}
              }
            }
          ]
        },
        {
          "spacing": 36.7,
          "resolve": {"scale": {"color": "independent", "shape": "independent"}},
          "vconcat": [
            {
              "width": 753,
              "height": 525,
              "layer": [
                {
                  "data": {"name": "d_displays"},
                  "mark": {"type": "rect", "fill": "#707070", "stroke": "#a5a5a5", "strokeWidth": 1},
                  "encoding": {
                    "x": {"field": "x1", "type": "quantitative", "scale": {"domain": [10.13, 85.43], "nice": false, "zero": false}, "axis": null},
                    "x2": {"field": "x2"},
                    "y": {"field": "y1", "type": "quantitative", "scale": {"domain": [0, 52.5], "nice": false, "zero": false, "reverse": true}, "axis": null},
                    "y2": {"field": "y2"}
                  }
                },
                {
                  "data": {"name": "d_lines"},
                  "mark": {"type": "rule", "color": "#e4e4e4", "strokeWidth": 3},
                  "encoding": {
                    "x": {"field": "x", "type": "quantitative", "scale": {"domain": [10.13, 85.43], "nice": false, "zero": false}, "axis": null},
                    "y": {"field": "y", "type": "quantitative", "scale": {"domain": [0, 52.5], "nice": false, "zero": false, "reverse": true}, "axis": null},
                    "x2": {"field": "x2"},
                    "y2": {"field": "y2"}
                  }
                },
                {
                  "data": {"name": "d_items"},
                  "mark": {"type": "point", "filled": false, "size": 1024, "strokeWidth": 4, "opacity": 1},
                  "encoding": {
                    "x": {"field": "x", "type": "quantitative", "scale": {"domain": [10.13, 85.43], "nice": false, "zero": false}, "axis": null},
                    "y": {"field": "y", "type": "quantitative", "scale": {"domain": [0, 52.5], "nice": false, "zero": false, "reverse": true}, "axis": null},
                    "shape": {"field": "k", "type": "nominal", "legend": null, "scale": {"domain": ["LT", "RT", "LM", "RM"], "range": ["M-1,-0.48L0.88,-0.48M0.88,-0.85L0.88,0.85", "M1,-0.48L-0.88,-0.48M-0.88,-0.85L-0.88,0.85", "M-1,0L0.88,0M0.88,-0.85L0.88,0.85", "M1,0L-0.88,0M-0.88,-0.85L-0.88,0.85"]}},
                    "color": {"field": "c", "type": "nominal", "legend": null, "scale": {"domain": ["dark", "light", "navy"], "range": ["#0550a0", "#58a3e8", "#0a2140"]}}
                  }
                },
                {
                  "data": {"name": "d_circles"},
                  "mark": {"type": "point", "shape": "circle", "filled": false, "size": 6400, "color": "#d42a2a", "strokeWidth": 2.5, "strokeDash": [6, 4], "opacity": 1},
                  "encoding": {
                    "x": {"field": "x", "type": "quantitative", "scale": {"domain": [10.13, 85.43], "nice": false, "zero": false}, "axis": null},
                    "y": {"field": "y", "type": "quantitative", "scale": {"domain": [0, 52.5], "nice": false, "zero": false, "reverse": true}, "axis": null}
                  }
                },
                {
                  "data": {"name": "d_titles"},
                  "mark": {"type": "text", "font": "Open Sans", "fontSize": 33, "align": "left", "baseline": "alphabetic", "color": "#333333"},
                  "encoding": {
                    "x": {"field": "x", "type": "quantitative", "scale": {"domain": [10.13, 85.43], "nice": false, "zero": false}, "axis": null},
                    "y": {"field": "y", "type": "quantitative", "scale": {"domain": [0, 52.5], "nice": false, "zero": false, "reverse": true}, "axis": null},
                    "text": {"field": "t", "type": "nominal"}
                  }
                }
              ]
            },
            {
              "spacing": 14,
              "resolve": {"scale": {"color": "independent", "shape": "independent"}},
              "hconcat": [
                {
                  "width": 309,
                  "height": 289,
                  "view": {"stroke": "black", "strokeWidth": 1.5},
                  "title": {"text": "A. Data during training", "font": "Liberation Serif", "fontSize": 23, "fontWeight": "normal", "color": "black", "anchor": "middle", "frame": "group", "offset": 4},
                  "layer": [
                    {
                      "data": {"name": "ta_train"},
                      "mark": {"type": "rule", "color": "#111111", "strokeWidth": 1.6},
                      "encoding": {
                        "x": {"field": "block", "type": "quantitative", "title": "Block", "scale": {"domain": [0.55, 20.5], "nice": false, "zero": false},
                          "axis": {"values": [1, 4, 7, 10, 13, 16, 19], "format": "d", "title": "Block", "titleFont": "Liberation Serif", "titleFontSize": 24, "titlePadding": 9, "labelFont": "Liberation Serif", "labelFontSize": 24, "labelPadding": 2, "tickSize": 6, "tickWidth": 1.5, "domain": false}},
                        "y": {"field": "lo", "type": "quantitative", "title": "Median RT (msec)", "scale": {"domain": [1000, 2105], "nice": false, "zero": false},
                          "axis": {"values": [1000, 1250, 1500, 1750, 2000], "format": ",.0f", "title": "Median RT (msec)", "titleFont": "Liberation Serif", "titleFontSize": 22, "titlePadding": 16, "labelFont": "Liberation Serif", "labelFontSize": 24, "labelPadding": 2, "tickSize": 7, "tickWidth": 1.5, "domain": false}},
                        "y2": {"field": "hi"}
                      }
                    },
                    {
                      "data": {"name": "ta_train"},
                      "mark": {"type": "tick", "orient": "horizontal", "size": 10, "thickness": 1.5, "color": "#111111", "opacity": 1},
                      "encoding": {
                        "x": {"field": "block", "type": "quantitative", "title": "Block", "scale": {"domain": [0.55, 20.5], "nice": false, "zero": false}},
                        "y": {"field": "hi", "type": "quantitative", "title": "Median RT (msec)", "scale": {"domain": [1000, 2105], "nice": false, "zero": false}}
                      }
                    },
                    {
                      "data": {"name": "ta_train"},
                      "mark": {"type": "tick", "orient": "horizontal", "size": 10, "thickness": 1.5, "color": "#111111", "opacity": 1},
                      "encoding": {
                        "x": {"field": "block", "type": "quantitative", "title": "Block", "scale": {"domain": [0.55, 20.5], "nice": false, "zero": false}},
                        "y": {"field": "lo", "type": "quantitative", "title": "Median RT (msec)", "scale": {"domain": [1000, 2105], "nice": false, "zero": false}}
                      }
                    },
                    {
                      "data": {"name": "ta_train"},
                      "mark": {"type": "line", "color": "black", "strokeWidth": 3},
                      "encoding": {
                        "x": {"field": "block", "type": "quantitative", "title": "Block", "scale": {"domain": [0.55, 20.5], "nice": false, "zero": false}},
                        "y": {"field": "rt", "type": "quantitative", "title": "Median RT (msec)", "scale": {"domain": [1000, 2105], "nice": false, "zero": false}}
                      }
                    },
                    {
                      "data": {"name": "ta_train"},
                      "mark": {"type": "point", "shape": "circle", "filled": true, "fill": "white", "stroke": "black", "strokeWidth": 2.6, "size": 100, "opacity": 1},
                      "encoding": {
                        "x": {"field": "block", "type": "quantitative", "title": "Block", "scale": {"domain": [0.55, 20.5], "nice": false, "zero": false}},
                        "y": {"field": "rt", "type": "quantitative", "title": "Median RT (msec)", "scale": {"domain": [1000, 2105], "nice": false, "zero": false}}
                      }
                    },
                    {
                      "data": {"name": "ta_legend"},
                      "mark": {"type": "rule", "color": "black", "strokeWidth": 3},
                      "encoding": {
                        "x": {"field": "xa", "type": "quantitative", "title": "Block", "scale": {"domain": [0.55, 20.5], "nice": false, "zero": false}},
                        "x2": {"field": "xb"},
                        "y": {"field": "y", "type": "quantitative", "title": "Median RT (msec)", "scale": {"domain": [1000, 2105], "nice": false, "zero": false}}
                      }
                    },
                    {
                      "data": {"name": "ta_legend"},
                      "mark": {"type": "point", "shape": "circle", "filled": true, "fill": "white", "stroke": "black", "strokeWidth": 2.6, "size": 100, "opacity": 1},
                      "encoding": {
                        "x": {"field": "xs", "type": "quantitative", "title": "Block", "scale": {"domain": [0.55, 20.5], "nice": false, "zero": false}},
                        "y": {"field": "y", "type": "quantitative", "title": "Median RT (msec)", "scale": {"domain": [1000, 2105], "nice": false, "zero": false}}
                      }
                    },
                    {
                      "data": {"name": "ta_legend"},
                      "mark": {"type": "text", "font": "Liberation Serif", "fontSize": 21.5, "align": "left", "baseline": "middle", "color": "black"},
                      "encoding": {
                        "x": {"field": "xt", "type": "quantitative", "title": "Block", "scale": {"domain": [0.55, 20.5], "nice": false, "zero": false}},
                        "y": {"field": "y", "type": "quantitative", "title": "Median RT (msec)", "scale": {"domain": [1000, 2105], "nice": false, "zero": false}},
                        "text": {"field": "t", "type": "nominal"}
                      }
                    }
                  ]
                },
                {
                  "width": 313,
                  "height": 289,
                  "view": {"stroke": "black", "strokeWidth": 1.5},
                  "title": {"text": "B. Data during transfer", "font": "Liberation Serif", "fontSize": 23, "fontWeight": "normal", "color": "black", "anchor": "middle", "frame": "group", "offset": 4},
                  "resolve": {"scale": {"x": "independent"}},
                  "layer": [
                    {
                      "data": {"name": "tb_transfer"},
                      "mark": {"type": "bar", "fill": "#cbcbcb", "stroke": "black", "strokeWidth": 3.3},
                      "encoding": {
                        "x": {"field": "cond", "type": "nominal", "sort": ["New", "Old", "Recombined"], "scale": {"domain": ["New", "Old", "Recombined"], "paddingInner": 0.313, "paddingOuter": 0.174},
                          "axis": {"title": "Condition", "labelAngle": 0, "titleFont": "Liberation Serif", "titleFontSize": 24, "titlePadding": 9, "labelFont": "Liberation Serif", "labelFontSize": 24, "labelPadding": 2, "tickSize": 6, "tickWidth": 1.5, "domain": false}},
                        "y": {"field": "rt", "type": "quantitative", "title": null, "scale": {"domain": [1000, 2105], "nice": false, "zero": false},
                          "axis": {"values": [1000, 1250, 1500, 1750, 2000], "format": ",.0f", "title": null, "labelFont": "Liberation Serif", "labelFontSize": 24, "labelPadding": 4, "tickSize": 7, "tickWidth": 1.5, "domain": false}},
                        "y2": {"datum": 1000}
                      }
                    },
                    {
                      "data": {"name": "tb_transfer"},
                      "mark": {"type": "rule", "color": "#111111", "strokeWidth": 1.8},
                      "encoding": {
                        "x": {"field": "cond", "type": "nominal", "sort": ["New", "Old", "Recombined"], "scale": {"domain": ["New", "Old", "Recombined"], "paddingInner": 0.313, "paddingOuter": 0.174}, "axis": null},
                        "y": {"field": "lo", "type": "quantitative", "title": null, "scale": {"domain": [1000, 2105], "nice": false, "zero": false}},
                        "y2": {"field": "hi"}
                      }
                    },
                    {
                      "data": {"name": "tb_transfer"},
                      "mark": {"type": "tick", "orient": "horizontal", "size": 17, "thickness": 1.8, "color": "#111111", "opacity": 1},
                      "encoding": {
                        "x": {"field": "cond", "type": "nominal", "sort": ["New", "Old", "Recombined"], "scale": {"domain": ["New", "Old", "Recombined"], "paddingInner": 0.313, "paddingOuter": 0.174}, "axis": null},
                        "y": {"field": "hi", "type": "quantitative", "title": null, "scale": {"domain": [1000, 2105], "nice": false, "zero": false}}
                      }
                    },
                    {
                      "data": {"name": "tb_transfer"},
                      "mark": {"type": "tick", "orient": "horizontal", "size": 17, "thickness": 1.8, "color": "#111111", "opacity": 1},
                      "encoding": {
                        "x": {"field": "cond", "type": "nominal", "sort": ["New", "Old", "Recombined"], "scale": {"domain": ["New", "Old", "Recombined"], "paddingInner": 0.313, "paddingOuter": 0.174}, "axis": null},
                        "y": {"field": "lo", "type": "quantitative", "title": null, "scale": {"domain": [1000, 2105], "nice": false, "zero": false}}
                      }
                    },
                    {
                      "data": {"name": "tb_legend"},
                      "mark": {"type": "point", "shape": "square", "filled": true, "fill": "#cbcbcb", "stroke": "black", "strokeWidth": 3, "size": 290, "opacity": 1},
                      "encoding": {
                        "x": {"field": "lx", "type": "quantitative", "scale": {"domain": [0, 1], "nice": false, "zero": false}, "axis": null},
                        "y": {"field": "y", "type": "quantitative", "title": null, "scale": {"domain": [1000, 2105], "nice": false, "zero": false}}
                      }
                    },
                    {
                      "data": {"name": "tb_legend"},
                      "mark": {"type": "text", "font": "Liberation Serif", "fontSize": 22, "align": "left", "baseline": "middle", "color": "black"},
                      "encoding": {
                        "x": {"field": "lxt", "type": "quantitative", "scale": {"domain": [0, 1], "nice": false, "zero": false}, "axis": null},
                        "y": {"field": "y", "type": "quantitative", "title": null, "scale": {"domain": [1000, 2105], "nice": false, "zero": false}},
                        "text": {"field": "t", "type": "nominal"}
                      }
                    }
                  ]
                }
              ]
            }
          ]
        }
      ]
    }
  ]
}
